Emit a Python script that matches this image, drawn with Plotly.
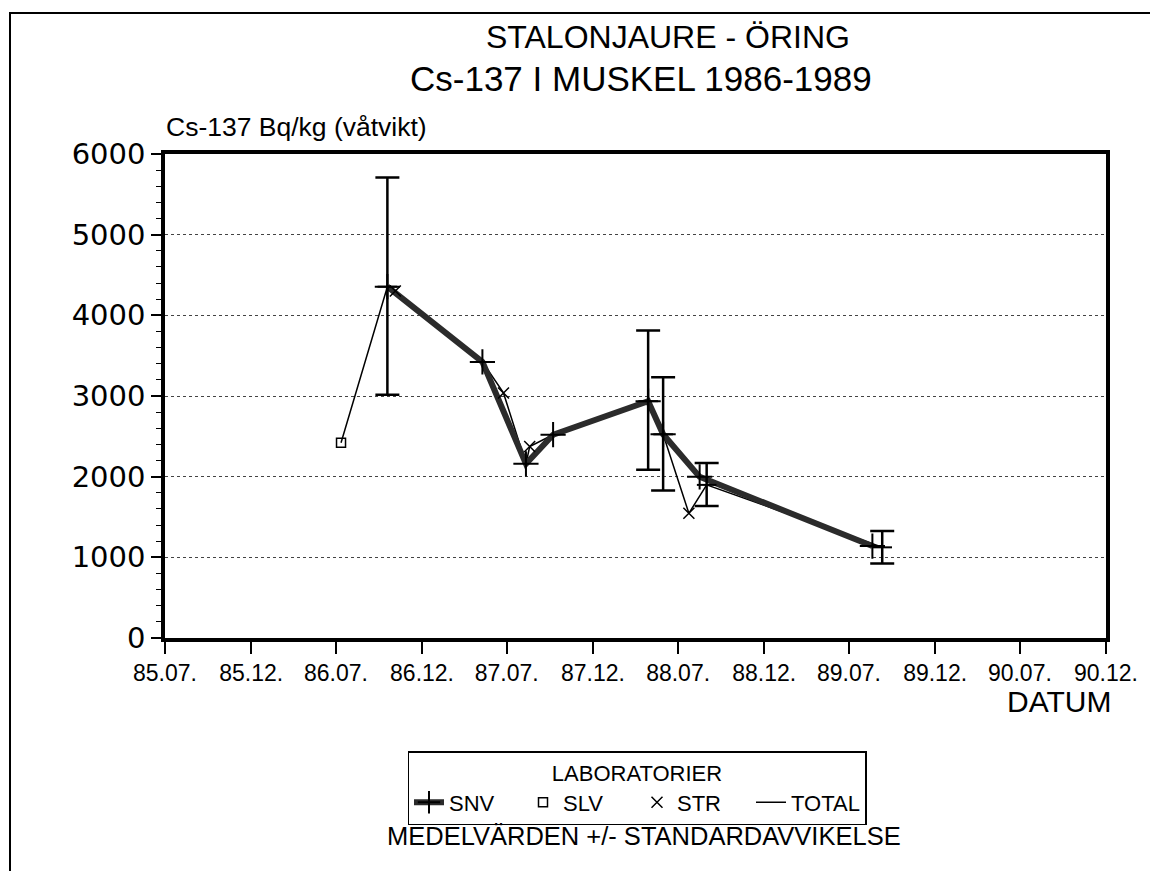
import plotly.graph_objects as go

# ---------------- data ----------------
snv_dates = ["1986-10-19", "1987-05-10", "1987-08-11", "1987-10-08",
             "1988-04-28", "1988-05-30", "1988-08-16", "1989-08-20"]
snv_vals = [4355, 3423, 2159, 2520, 2936, 2525, 1998, 1140]

slv_dates = ["1986-07-12"]
slv_vals = [2420]

str_dates = ["1986-11-05", "1987-06-24", "1987-08-19", "1988-07-24"]
str_vals = [4301, 3038, 2374, 1546]

total_dates = ["1986-07-12", "1986-10-19", "1987-05-10", "1987-06-24",
               "1987-08-11", "1987-08-19", "1987-10-08", "1988-04-28",
               "1988-05-30", "1988-07-24", "1988-08-31", "1989-09-10"]
total_vals = [2420, 4355, 3423, 3038, 2159, 2374, 2520, 2936,
              2525, 1546, 1898, 1124]

sd_dates = ["1986-10-19", "1988-04-28", "1988-05-30", "1988-08-31", "1989-09-10"]
sd_means = [4355, 2936, 2525, 1898, 1124]
sd_plus = [1355, 876, 707, 270, 202]
sd_minus = [1338, 851, 698, 261, 199]

x_tickvals = ["1985-07-01", "1986-01-01", "1986-07-01", "1987-01-01",
              "1987-07-01", "1988-01-01", "1988-07-01", "1989-01-01",
              "1989-07-01", "1990-01-01", "1990-07-01", "1991-01-01"]
x_ticktext = ["85.07.", "85.12.", "86.07.", "86.12.", "87.07.", "87.12.",
              "88.07.", "88.12.", "89.07.", "89.12.", "90.07.", "90.12."]
y_tickvals = [0, 1000, 2000, 3000, 4000, 5000, 6000]

SANS = "Liberation Sans, Arial, sans-serif"
WIDE = "DejaVu Sans, sans-serif"

fig = go.Figure()

# TOTAL thin line (drawn first, under SNV)
fig.add_trace(go.Scatter(
    x=total_dates, y=total_vals, mode="lines", name="TOTAL",
    line=dict(color="black", width=1.5), legendrank=4))

# SNV thick line with + markers
fig.add_trace(go.Scatter(
    x=snv_dates, y=snv_vals, mode="lines+markers", name="SNV",
    line=dict(color="#2b2b2b", width=6),
    marker=dict(symbol="cross-thin", size=18, color="black",
                line=dict(color="black", width=2)),
    legendrank=1))

# SLV squares
fig.add_trace(go.Scatter(
    x=slv_dates, y=slv_vals, mode="markers", name="SLV",
    marker=dict(symbol="square-open", size=9, color="black",
                line=dict(color="black", width=1.5)),
    legendrank=2))

# STR crosses
fig.add_trace(go.Scatter(
    x=str_dates, y=str_vals, mode="markers", name="STR",
    marker=dict(symbol="x-thin", size=11, color="black",
                line=dict(color="black", width=1.5)),
    legendrank=3))

# Mean +/- standard deviation
fig.add_trace(go.Scatter(
    x=sd_dates, y=sd_means, mode="markers", showlegend=False,
    marker=dict(symbol="line-ew", size=14, color="black",
                line=dict(color="black", width=2)),
    error_y=dict(type="data", symmetric=False, array=sd_plus,
                 arrayminus=sd_minus, color="black", thickness=2.5, width=12)))

L, R, T, B = 165, 1106, 154, 637.7
W, H = 1150, 871
pw, ph = R - L, B - T


def px(xp):
    return (xp - L) / pw


def py(yp):
    return (B - yp) / ph


annotations = [
    dict(text="STALONJAURE - ÖRING", x=px(668), y=py(37), xref="paper", yref="paper",
         xanchor="center", yanchor="middle", showarrow=False,
         font=dict(family=SANS, size=32, color="black")),
    dict(text="Cs-137 I MUSKEL 1986-1989", x=px(641), y=py(79), xref="paper", yref="paper",
         xanchor="center", yanchor="middle", showarrow=False,
         font=dict(family=SANS, size=35, color="black")),
    dict(text="Cs-137 Bq/kg (våtvikt)", x=px(164), y=py(127), xref="paper", yref="paper",
         xanchor="left", yanchor="middle", showarrow=False,
         font=dict(family=SANS, size=26.5, color="black")),
    dict(text="DATUM", x=px(1113), y=py(701), xref="paper", yref="paper",
         xanchor="right", yanchor="middle", showarrow=False,
         font=dict(family=SANS, size=30, color="black")),
    dict(text="MEDELVÄRDEN +/- STANDARDAVVIKELSE", x=px(644), y=py(836),
         xref="paper", yref="paper", xanchor="center", yanchor="middle",
         showarrow=False, font=dict(family=SANS, size=25.5, color="black")),
]

shapes = [
    dict(type="rect", xref="paper", yref="paper",
         x0=px(10), x1=px(1160), y0=py(890), y1=py(13),
         line=dict(color="black", width=2), fillcolor="rgba(0,0,0,0)", layer="below"),
]

fig.update_layout(
    width=W, height=H,
    margin=dict(l=L, r=W - R, t=T, b=H - B, pad=0),
    paper_bgcolor="white", plot_bgcolor="white",
    font=dict(family=SANS, color="black"),
    annotations=annotations, shapes=shapes,
    showlegend=True,
    legend=dict(
        orientation="h", x=px(637), y=py(751), xanchor="center", yanchor="top",
        xref="paper", yref="paper",
        bgcolor="white", bordercolor="black", borderwidth=1.5,
        font=dict(family=SANS, size=22, color="black"),
        title=dict(text="LABORATORIER", side="top center",
                   font=dict(family=SANS, size=22, color="black")),
        itemsizing="trace", itemwidth=30,
        entrywidth=69, entrywidthmode="pixels",
    ),
)

fig.update_xaxes(
    type="date", range=["1985-07-01", "1991-01-01"],
    tickmode="array", tickvals=x_tickvals, ticktext=x_ticktext,
    ticks="outside", ticklen=12, tickwidth=1.5, tickcolor="black",
    tickfont=dict(family=SANS, size=23, color="black"),
    showline=True, linewidth=3.5, linecolor="black", mirror=True,
    showgrid=False, zeroline=False,
)

fig.update_yaxes(
    range=[0, 6000], tickmode="array", tickvals=y_tickvals,
    ticks="outside", ticklen=10, tickwidth=1.5, tickcolor="black",
    tickfont=dict(family=WIDE, size=29, color="black"),
    minor=dict(ticks="outside", ticklen=5, tickwidth=1, tickcolor="black",
               dtick=200, tick0=0, showgrid=False),
    showline=True, linewidth=3.5, linecolor="black", mirror=True,
    showgrid=True, gridcolor="#444444", gridwidth=1, griddash="dot",
    zeroline=False,
)

fig.write_html("out.html")
